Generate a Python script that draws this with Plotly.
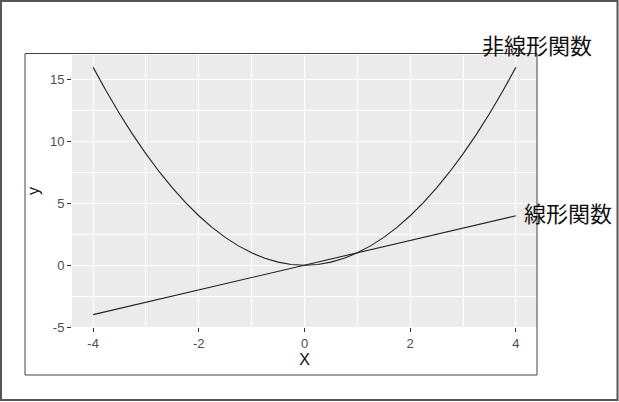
import plotly.graph_objects as go

# sample points (step 0.25)
x_vals = [-4.0, -3.75, -3.5, -3.25, -3.0, -2.75, -2.5, -2.25, -2.0,
          -1.75, -1.5, -1.25, -1.0, -0.75, -0.5, -0.25, 0.0,
          0.25, 0.5, 0.75, 1.0, 1.25, 1.5, 1.75, 2.0,
          2.25, 2.5, 2.75, 3.0, 3.25, 3.5, 3.75, 4.0]
linear_y = [-4.0, -3.75, -3.5, -3.25, -3.0, -2.75, -2.5, -2.25, -2.0,
            -1.75, -1.5, -1.25, -1.0, -0.75, -0.5, -0.25, 0.0,
            0.25, 0.5, 0.75, 1.0, 1.25, 1.5, 1.75, 2.0,
            2.25, 2.5, 2.75, 3.0, 3.25, 3.5, 3.75, 4.0]
nonlinear_y = [16.0, 14.06, 12.25, 10.56, 9.0, 7.56, 6.25, 5.06, 4.0,
               3.06, 2.25, 1.56, 1.0, 0.56, 0.25, 0.06, 0.0,
               0.06, 0.25, 0.56, 1.0, 1.56, 2.25, 3.06, 4.0,
               5.06, 6.25, 7.56, 9.0, 10.56, 12.25, 14.06, 16.0]

x_ticks = [-4, -2, 0, 2, 4]
x_ticktext = ["-4", "-2", "0", "2", "4"]
y_ticks = [-5, 0, 5, 10, 15]
y_ticktext = ["-5", "0", "5", "10", "15"]

labels = ["非線形関数", "線形関数"]
label_pos = [(3.32, 17.85), (4.12, 4.3)]

LINE = "#222222"
PANEL = "#EBEBEB"
TICK_TXT = "#4D4D4D"
CJK = "Noto Sans CJK JP"
LATIN = "Liberation Sans, Arial"

X_RANGE = [-4.4, 4.4]
Y_RANGE = [-5, 17]

fig = go.Figure()
fig.add_trace(go.Scatter(x=x_vals, y=linear_y, mode="lines",
                         line=dict(color=LINE, width=1.1), showlegend=False))
fig.add_trace(go.Scatter(x=x_vals, y=nonlinear_y, mode="lines",
                         line=dict(color=LINE, width=1.1), showlegend=False))

# labels sit outside the data range, so place them in paper units
for text, (lx, ly) in zip(labels, label_pos):
    fig.add_annotation(
        x=(lx - X_RANGE[0]) / (X_RANGE[1] - X_RANGE[0]),
        y=(ly - Y_RANGE[0]) / (Y_RANGE[1] - Y_RANGE[0]),
        xref="paper", yref="paper", text=text,
        showarrow=False, xanchor="left", yanchor="middle",
        font=dict(family=CJK, size=22, color="#111111"))

axis_common = dict(
    showline=False, zeroline=False,
    gridcolor="white", gridwidth=1.4,
    ticks="outside", ticklen=4, tickwidth=1, tickcolor="#333333",
    tickfont=dict(family=LATIN, size=13, color=TICK_TXT),
)

fig.update_xaxes(
    range=X_RANGE, tickvals=x_ticks, ticktext=x_ticktext,
    minor=dict(dtick=1, tick0=0, showgrid=True, gridcolor="white",
               gridwidth=0.8, ticks=""),
    title=dict(text="X", font=dict(family=LATIN, size=16, color="#111111"),
               standoff=2),
    **axis_common,
)
fig.update_yaxes(
    range=Y_RANGE, tickvals=y_ticks, ticktext=y_ticktext,
    minor=dict(dtick=2.5, tick0=0, showgrid=True, gridcolor="white",
               gridwidth=0.8, ticks=""),
    title=dict(text="y", font=dict(family=LATIN, size=16, color="#111111"),
               standoff=6),
    **axis_common,
)

# panel sits at x 72..537, y 55..327 in a 619x402 window
W, H = 619, 402
L, R, T, B = 72, 537, 55, 327
pw, ph = R - L, B - T


def px(x):
    return (x - L) / pw


def py(y):
    return (B - y) / ph


fig.update_layout(
    width=W, height=H,
    margin=dict(l=L, r=W - R, t=T, b=H - B, pad=0),
    plot_bgcolor=PANEL, paper_bgcolor="white",
    shapes=[
        # outer frame around the whole picture
        dict(type="rect", xref="paper", yref="paper",
             x0=px(1), x1=px(W - 1.5), y0=py(H - 2), y1=py(1),
             line=dict(color="#555555", width=2), layer="above"),
        # inner frame round the plot
        dict(type="rect", xref="paper", yref="paper",
             x0=px(25), x1=px(537), y0=py(375), y1=py(53.5),
             line=dict(color="#444444", width=1), layer="above"),
    ],
)

fig.write_html("out.html",
               config={"displayModeBar": False},
               post_script="document.body.style.margin='0';"
                           "document.body.style.overflow='hidden';")
